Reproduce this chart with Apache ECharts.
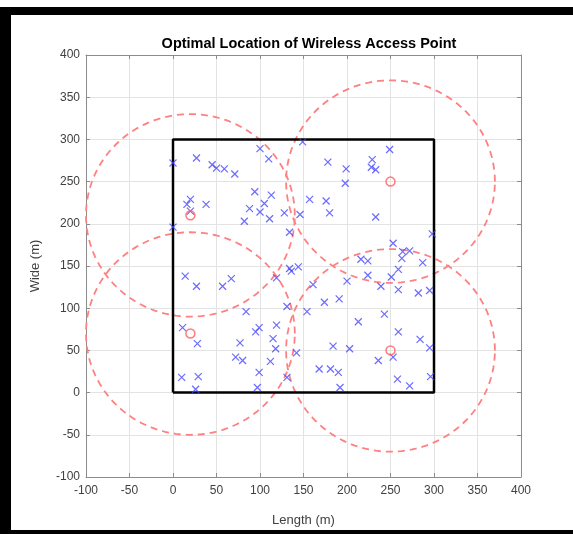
<!DOCTYPE html>
<html>
<head>
<meta charset="utf-8">
<script src="https://cdn.jsdelivr.net/npm/echarts@6/dist/echarts.min.js"></script>
<style>
  html, body { margin: 0; padding: 0; background: #fff; }
  #chart { width: 573px; height: 534px; }
</style>
</head>
<body>
<div id="chart"></div>
<script>
// axis range (m)
var axisMin = -100;
var axisMax = 400;
var axisStep = 50;

// deployment area (square side, m)
var areaSide = 300;

// access point positions and coverage radius
var apX = [20, 20, 250, 250];
var apY = [210, 70, 250, 50];
var coverageRadius = 120;

// sensor / user nodes
var nodeX = [0, 27, 45, 50, 59, 71, 100, 110, 94, 113, 105, 88, 100, 111, 82, 128, 146, 134, 157, 20,
    16, 38, 20, 0, 134, 136, 144, 14, 27, 57, 67, 119, 84, 131, 154, 11, 28, 77, 95, 99,
    119, 115, 118, 72, 80, 112, 142, 10, 29, 99, 131, 97, 26, 149, 178, 199, 198, 229, 228, 233,
    249, 176, 180, 233, 298, 253, 264, 272, 263, 216, 224, 287, 259, 224, 251, 200, 161, 239, 259, 282,
    295, 174, 191, 243, 213, 259, 284, 295, 184, 203, 236, 253, 168, 181, 190, 192, 258, 272, 296];
var nodeY = [272, 278, 270, 266, 265, 259, 289, 277, 238, 234, 224, 218, 214, 206, 203, 213, 211, 190, 229, 229,
    223, 223, 215, 196, 147, 144, 149, 138, 126, 126, 135, 136, 96, 102, 96, 77, 58, 59, 72, 77,
    80, 64, 52, 42, 38, 37, 47, 18, 19, 24, 18, 6, 4, 297, 273, 265, 248, 276, 267, 264,
    288, 227, 213, 208, 188, 177, 167, 168, 159, 158, 156, 154, 146, 139, 137, 132, 128, 126, 122, 118,
    121, 107, 111, 93, 84, 72, 63, 53, 55, 52, 38, 42, 28, 28, 24, 6, 16, 8, 19];

var chart = echarts.init(document.getElementById('chart'));

var nodes = nodeX.map(function(x, i) { return [x, nodeY[i]]; });
var centers = apX.map(function(x, i) { return [x, apY[i]]; });
var square = [[0, 0], [areaSide, 0], [areaSide, areaSide], [0, areaSide], [0, 0]];

// coverage circle outline for one access point
function ring(cx, cy) {
    var pts = [];
    for (var k = 0; k <= 180; k++) {
        var a = k / 180 * Math.PI * 2;
        pts.push([cx + coverageRadius * Math.cos(a), cy + coverageRadius * Math.sin(a)]);
    }
    return pts;
}

var labelFont = { fontFamily: 'Liberation Sans, Arial, sans-serif', fontSize: 12, color: '#404040' };
var boxColor = '#8c8c8c';

function baseAxis(pos, main, name) {
    return {
        type: 'value',
        position: pos,
        min: axisMin,
        max: axisMax,
        interval: axisStep,
        name: main ? name : '',
        nameLocation: 'middle',
        nameGap: pos === 'bottom' ? 37 : 44,
        nameTextStyle: { fontFamily: 'Liberation Sans, Arial, sans-serif', fontSize: 13, color: '#404040' },
        axisLine: { show: true, onZero: false, lineStyle: { color: boxColor, width: 1 } },
        axisTick: { show: true, inside: true, length: 4, lineStyle: { color: boxColor } },
        axisLabel: main ? Object.assign({ margin: pos === 'bottom' ? 8 : 6 }, labelFont) : { show: false },
        splitLine: { show: main, lineStyle: { color: '#e3e3e3', width: 1 } }
    };
}

var series = [];
centers.forEach(function(c, i) {
    series.push({
        name: 'coverage' + i,
        type: 'line',
        data: ring(c[0], c[1]),
        showSymbol: false,
        smooth: false,
        lineStyle: { color: '#ff8080', width: 1.8, type: [7, 5] },
        z: 2
    });
});
series.push({
    name: 'area',
    type: 'line',
    data: square,
    showSymbol: false,
    lineStyle: { color: '#000', width: 2.5 },
    z: 3
});
series.push({
    name: 'nodes',
    type: 'scatter',
    data: nodes,
    symbol: 'path://M0,0L10,10M10,0L0,10',
    symbolSize: 7,
    itemStyle: { color: 'rgba(0,0,0,0)', borderColor: '#4646ff', borderWidth: 1.2 },
    z: 4
});
series.push({
    name: 'access points',
    type: 'scatter',
    data: centers,
    symbol: 'circle',
    symbolSize: 9,
    itemStyle: { color: 'rgba(255,255,255,0)', borderColor: '#ff5c5c', borderWidth: 1.5 },
    z: 5
});

option = {
    backgroundColor: '#fff',
    animation: false,
    title: {
        text: 'Optimal Location of Wireless Access Point',
        left: 304,
        textAlign: 'center',
        top: 31,
        textStyle: { fontFamily: 'Liberation Sans, Arial, sans-serif', fontSize: 14.5, fontWeight: 'bold', color: '#000' }
    },
    grid: { left: 86, right: 52, top: 55, bottom: 57 },
    xAxis: [baseAxis('bottom', true, 'Length (m)'), baseAxis('top', false)],
    yAxis: [baseAxis('left', true, 'Wide (m)'), baseAxis('right', false)],
    series: series,
    graphic: [
        { type: 'rect', left: 0, top: 7, shape: { width: 11, height: 527 }, style: { fill: '#000' } },
        { type: 'rect', left: 0, top: 7, shape: { width: 573, height: 8 }, style: { fill: '#000' } },
        { type: 'rect', left: 0, top: 530, shape: { width: 573, height: 4 }, style: { fill: '#000' } }
    ]
};

chart.setOption(option);
</script>
</body>
</html>
